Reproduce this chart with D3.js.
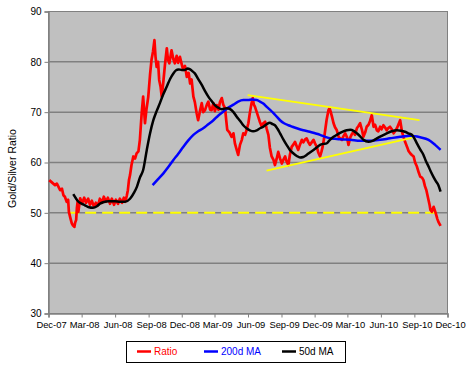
<!DOCTYPE html>
<html>
<head>
<meta charset="utf-8">
<title>Gold/Silver Ratio</title>
<style>
  body { margin: 0; background: #fff; }
  svg text { font-family: "Liberation Sans", Arial, sans-serif; }
</style>
</head>
<body>
<svg id="chart"></svg>
<script src="https://d3js.org/d3.v7.min.js"></script>
<script>
// ---- data ----
var ratioDates = ['2007-12-03','2007-12-11','2007-12-19','2007-12-24','2008-01-02','2008-01-07','2008-01-11','2008-01-15','2008-01-20','2008-01-24',
  '2008-01-26','2008-01-30','2008-02-03','2008-02-06','2008-02-10','2008-02-12','2008-02-15','2008-02-17','2008-02-19','2008-02-21',
  '2008-02-26','2008-03-02','2008-03-08','2008-03-13','2008-03-19','2008-03-24','2008-03-29','2008-04-04','2008-04-09','2008-04-15',
  '2008-04-20','2008-04-26','2008-05-01','2008-05-07','2008-05-12','2008-05-18','2008-05-23','2008-05-29','2008-06-03','2008-06-09',
  '2008-06-14','2008-06-20','2008-06-25','2008-06-29','2008-07-03','2008-07-06','2008-07-09','2008-07-12','2008-07-16','2008-07-21',
  '2008-07-26','2008-07-30','2008-08-04','2008-08-08','2008-08-13','2008-08-17','2008-08-22','2008-08-26','2008-08-31','2008-09-05',
  '2008-09-09','2008-09-13','2008-09-17','2008-09-20','2008-09-23','2008-09-27','2008-09-30','2008-10-04','2008-10-07','2008-10-11',
  '2008-10-16','2008-10-21','2008-10-24','2008-10-28','2008-10-31','2008-11-03','2008-11-08','2008-11-12','2008-11-17','2008-11-21',
  '2008-11-26','2008-12-01','2008-12-05','2008-12-10','2008-12-15','2008-12-20','2008-12-24','2008-12-28','2009-01-02','2009-01-06',
  '2009-01-11','2009-01-15','2009-01-20','2009-01-25','2009-01-29','2009-02-03','2009-02-08','2009-02-12','2009-02-17','2009-02-21',
  '2009-02-26','2009-03-02','2009-03-07','2009-03-12','2009-03-16','2009-03-21','2009-03-25','2009-03-30','2009-04-02','2009-04-05',
  '2009-04-11','2009-04-17','2009-04-22','2009-04-26','2009-05-01','2009-05-05','2009-05-10','2009-05-15','2009-05-19','2009-05-24',
  '2009-05-28','2009-06-02','2009-06-06','2009-06-10','2009-06-14','2009-06-17','2009-06-20','2009-06-25','2009-06-29','2009-07-04',
  '2009-07-09','2009-07-13','2009-07-18','2009-07-22','2009-07-27','2009-07-31','2009-08-05','2009-08-10','2009-08-14','2009-08-19',
  '2009-08-23','2009-08-28','2009-09-02','2009-09-06','2009-09-11','2009-09-15','2009-09-20','2009-09-24','2009-09-29','2009-10-04',
  '2009-10-08','2009-10-13','2009-10-17','2009-10-22','2009-10-27','2009-10-31','2009-11-05','2009-11-09','2009-11-14','2009-11-18',
  '2009-11-23','2009-11-28','2009-12-02','2009-12-07','2009-12-11','2009-12-16','2009-12-20','2009-12-23','2009-12-27','2009-12-30',
  '2010-01-03','2010-01-08','2010-01-11','2010-01-14','2010-01-18','2010-01-22','2010-01-26','2010-01-31','2010-02-05','2010-02-09',
  '2010-02-14','2010-02-18','2010-02-23','2010-02-28','2010-03-04','2010-03-09','2010-03-13','2010-03-18','2010-03-22','2010-03-27',
  '2010-03-31','2010-04-05','2010-04-10','2010-04-14','2010-04-19','2010-04-23','2010-04-28','2010-05-02','2010-05-07','2010-05-12',
  '2010-05-16','2010-05-21','2010-05-25','2010-05-30','2010-06-03','2010-06-08','2010-06-13','2010-06-17','2010-06-22','2010-06-26',
  '2010-07-01','2010-07-06','2010-07-10','2010-07-15','2010-07-19','2010-07-24','2010-07-29','2010-08-02','2010-08-07','2010-08-12',
  '2010-08-16','2010-08-21','2010-08-25','2010-08-30','2010-09-03','2010-09-08','2010-09-13','2010-09-17','2010-09-22','2010-09-26',
  '2010-09-30','2010-10-04','2010-10-07','2010-10-10','2010-10-13','2010-10-15','2010-10-19','2010-10-24','2010-10-28','2010-10-31',
  '2010-11-03','2010-11-06','2010-11-09','2010-11-12'];
var ratioValues = [56.5,56.0,55.5,55.8,54.5,54.8,53.5,53.2,52.2,52.6,
  50.2,49.0,47.9,47.5,47.2,48.0,48.6,51.0,52.2,50.2,
  52.9,51.8,53.0,52.0,52.8,51.6,52.4,51.2,52.0,51.5,
  52.8,52.0,53.2,52.2,53.0,51.8,52.8,51.6,52.6,51.8,
  52.8,52.0,53.0,52.2,53.4,54.5,56.5,57.5,59.5,61.2,
  60.8,61.8,62.2,64.5,69.8,73.1,67.8,70.5,73.0,77.5,
  80.4,82.0,84.3,81.0,79.0,80.0,76.4,75.0,73.1,75.7,
  79.5,82.7,80.5,79.7,81.0,82.3,80.5,79.7,81.2,79.8,
  81.0,79.5,78.4,79.2,77.0,77.8,75.7,76.5,73.1,72.0,
  69.8,68.4,70.2,71.8,70.0,70.4,71.5,72.1,70.5,70.4,
  71.8,70.2,71.4,70.5,72.0,72.8,71.5,70.8,68.5,66.5,
  66.0,65.1,65.8,63.8,62.5,61.5,63.5,64.5,65.8,65.5,
  66.4,67.8,69.8,71.5,72.8,71.5,71.1,70.0,69.1,68.0,
  67.1,67.8,68.1,66.8,65.5,63.0,61.2,60.5,59.5,60.8,
  62.1,60.8,59.8,60.5,61.2,60.2,59.5,61.5,63.1,63.6,
  64.1,63.2,62.5,63.6,64.5,64.0,64.6,64.8,64.0,63.5,
  64.0,64.5,63.8,63.1,62.0,61.2,62.2,63.1,64.8,66.4,
  68.5,70.4,70.8,70.1,69.0,67.8,67.0,66.4,65.1,64.8,
  64.5,65.2,65.8,65.0,63.5,65.0,65.6,66.1,65.5,66.8,
  67.2,67.8,66.5,65.1,66.0,67.1,67.5,68.2,69.4,67.1,
  67.5,66.4,66.2,67.1,66.6,67.4,66.9,66.4,66.9,67.1,
  66.6,65.8,66.2,66.8,67.5,68.4,66.1,65.1,64.0,63.1,
  62.3,61.8,61.5,61.2,60.0,59.2,58.0,57.2,57.0,56.5,
  55.3,54.5,53.5,52.5,51.5,50.6,50.2,51.2,50.3,49.6,
  48.8,48.2,47.8,47.4];

var ma200Dates = ['2008-09-12','2008-09-27','2008-10-11','2008-10-25','2008-11-08','2008-11-22','2008-12-05','2008-12-19','2009-01-02','2009-01-15',
  '2009-01-29','2009-02-12','2009-02-26','2009-03-11','2009-03-25','2009-04-08','2009-04-22','2009-05-05','2009-05-19','2009-06-02',
  '2009-06-11','2009-06-25','2009-07-04','2009-07-13','2009-07-22','2009-07-31','2009-08-10','2009-08-19','2009-08-28','2009-09-08',
  '2009-09-20','2009-10-01','2009-10-13','2009-10-31','2009-11-18','2009-12-02','2009-12-16','2009-12-30','2010-01-12','2010-01-26',
  '2010-02-09','2010-03-09','2010-04-05','2010-05-02','2010-05-30','2010-06-26','2010-07-24','2010-08-21','2010-09-17','2010-10-10',
  '2010-10-28','2010-11-12'];
var ma200Values = [55.5,56.7,57.8,59.1,60.5,61.8,63.1,64.4,65.5,66.2,
  66.8,67.6,68.4,69.3,70.1,70.9,71.5,72.1,72.4,72.4,
  72.5,72.4,72.1,71.7,71.1,70.5,69.8,69.1,68.4,67.8,
  67.4,67.1,66.8,66.4,66.1,65.8,65.5,65.1,64.8,64.7,
  64.6,64.5,64.3,64.3,64.5,64.8,65.1,65.3,65.0,64.5,
  63.5,62.5];

var ma50Dates = ['2008-02-07','2008-02-15','2008-02-20','2008-02-28','2008-03-10','2008-03-21','2008-04-01','2008-04-12','2008-04-20','2008-04-29',
  '2008-05-15','2008-06-01','2008-06-14','2008-06-28','2008-07-12','2008-07-23','2008-07-31','2008-08-08','2008-08-17','2008-08-27',
  '2008-09-05','2008-09-14','2008-09-23','2008-10-02','2008-10-11','2008-10-21','2008-10-30','2008-11-08','2008-11-15','2008-11-22',
  '2008-12-01','2008-12-10','2008-12-17','2008-12-24','2008-12-31','2009-01-06','2009-01-15','2009-01-25','2009-02-03','2009-02-12',
  '2009-02-21','2009-03-02','2009-03-11','2009-03-21','2009-04-04','2009-04-13','2009-04-22','2009-05-01','2009-05-10','2009-05-19',
  '2009-05-28','2009-06-06','2009-06-15','2009-06-25','2009-07-04','2009-07-13','2009-07-22','2009-07-31','2009-08-08','2009-08-14',
  '2009-08-21','2009-08-28','2009-09-06','2009-09-15','2009-09-24','2009-10-04','2009-10-13','2009-10-22','2009-10-31','2009-11-09',
  '2009-11-18','2009-11-28','2009-12-07','2009-12-16','2009-12-25','2010-01-03','2010-01-12','2010-01-22','2010-01-31','2010-02-09',
  '2010-02-18','2010-02-27','2010-03-09','2010-03-18','2010-03-27','2010-04-05','2010-04-14','2010-04-28','2010-05-09','2010-05-21',
  '2010-06-03','2010-06-17','2010-07-01','2010-07-15','2010-07-26','2010-08-06','2010-08-15','2010-08-25','2010-09-01','2010-09-08',
  '2010-09-17','2010-09-26','2010-10-02','2010-10-10','2010-10-16','2010-10-23','2010-10-30','2010-11-06','2010-11-12'];
var ma50Values = [53.7,52.8,52.3,51.9,51.5,51.1,51.0,51.3,51.8,52.1,
  52.3,52.3,52.2,52.2,52.8,54.0,55.2,57.0,58.5,62.5,
  65.8,68.4,70.2,71.8,73.5,75.1,76.6,77.7,78.3,78.5,
  78.4,78.4,78.7,78.5,78.1,77.7,76.6,75.4,74.2,73.1,
  72.2,71.4,70.9,70.6,70.8,70.6,70.0,69.1,68.3,67.4,
  66.8,66.4,66.2,66.4,66.8,67.1,67.6,67.9,67.6,67.4,
  66.7,65.8,64.6,63.5,62.5,61.8,61.3,61.0,61.1,61.5,
  62.0,62.5,63.0,63.5,63.7,63.8,64.5,65.1,65.5,65.9,
  66.2,66.4,66.5,66.3,65.8,65.2,64.5,64.1,64.3,64.8,
  65.3,65.8,66.2,66.4,66.3,66.1,65.8,65.5,64.8,63.8,
  62.6,61.5,60.4,59.2,58.2,57.2,56.3,55.5,54.2];

// hand-drawn trend lines (start/end) and support level
var upperTrend = [['2009-05-31', 73.4], ['2010-09-15', 68.4]];
var lowerTrend = [['2009-07-22', 58.4], ['2010-08-25', 64.9]];
var supportLine = [['2008-01-24', 50], ['2010-11-02', 50]];

var tickDates = ['2007-12-01','2008-03-01','2008-06-01','2008-09-01','2008-12-01','2009-03-01','2009-06-01',
  '2009-09-01','2009-12-01','2010-03-01','2010-06-01','2010-09-01','2010-12-01'];
var tickLabels = ['Dec-07','Mar-08','Jun-08','Sep-08','Dec-08','Mar-09','Jun-09',
  'Sep-09','Dec-09','Mar-10','Jun-10','Sep-10','Dec-10'];
var yTicks = [30, 40, 50, 60, 70, 80, 90];

// ---- drawing ----
var parse = d3.timeParse('%Y-%m-%d');
var W = 470, H = 371;
var plotL = 48.5, plotR = 447.5, plotT = 11.5, plotB = 313.5;

var svg = d3.select('#chart').attr('width', W).attr('height', H);

var x = d3.scaleTime()
  .domain([parse('2007-12-01'), parse('2010-12-01')])
  .range([plotL, plotR]);
var y = d3.scaleLinear().domain([30, 90]).range([plotB, plotT]);

svg.append('rect')
  .attr('x', plotL).attr('y', plotT)
  .attr('width', plotR - plotL).attr('height', plotB - plotT)
  .attr('fill', '#c0c0c0').attr('stroke', '#808080').attr('stroke-width', 1);

// gridlines
svg.append('g').selectAll('line')
  .data(yTicks.slice(1, -1))
  .enter().append('line')
  .attr('x1', plotL).attr('x2', plotR)
  .attr('y1', function(d) { return y(d); })
  .attr('y2', function(d) { return y(d); })
  .attr('stroke', '#808080').attr('stroke-width', 1.5);

var yAxis = d3.axisLeft(y).tickValues(yTicks).tickSize(4).tickPadding(3).tickFormat(d3.format('d'));
var gy = svg.append('g').attr('transform', 'translate(' + plotL + ',0)').call(yAxis);

var xAxis = d3.axisBottom(x)
  .tickValues(tickDates.map(parse))
  .tickSize(4).tickPadding(4)
  .tickFormat(function(d, i) { return tickLabels[i]; });
var gx = svg.append('g').attr('transform', 'translate(0,' + plotB + ')').call(xAxis);

[gx, gy].forEach(function(g) {
  g.select('.domain').attr('stroke', '#808080').attr('stroke-width', 1.5);
  g.selectAll('.tick line').attr('stroke', '#808080');
  g.selectAll('.tick text').attr('fill', '#000').style('font-size', '9.4px')
    .style('font-family', '"Liberation Sans", Arial, sans-serif');
});
gy.selectAll('.tick text').style('font-size', '10px');
gx.selectAll('.tick text').attr('dx', 2.5);

svg.append('text')
  .attr('transform', 'translate(16,' + ((plotT + plotB) / 2 + 6) + ') rotate(-90)')
  .attr('text-anchor', 'middle')
  .style('font-size', '10.5px')
  .text('Gold/Silver Ratio');

function pairs(dates, vals) {
  return dates.map(function(d, i) { return [parse(d), vals[i]]; });
}
function seg(arr) {
  return arr.map(function(p) { return [parse(p[0]), p[1]]; });
}

var line = d3.line()
  .x(function(d) { return x(d[0]); })
  .y(function(d) { return y(d[1]); });
var smooth = d3.line()
  .curve(d3.curveMonotoneX)
  .x(function(d) { return x(d[0]); })
  .y(function(d) { return y(d[1]); });

// support level at 50
svg.append('path')
  .datum(seg(supportLine))
  .attr('d', line)
  .attr('fill', 'none').attr('stroke', '#ffff00').attr('stroke-width', 2)
  .attr('stroke-dasharray', '11,6');

svg.append('path')
  .datum(pairs(ratioDates, ratioValues))
  .attr('d', line)
  .attr('fill', 'none').attr('stroke', '#ff0000').attr('stroke-width', 2.7)
  .attr('stroke-linejoin', 'round');

svg.append('path')
  .datum(pairs(ma200Dates, ma200Values))
  .attr('d', smooth)
  .attr('fill', 'none').attr('stroke', '#0000ff').attr('stroke-width', 2.5);

svg.append('path')
  .datum(pairs(ma50Dates, ma50Values))
  .attr('d', smooth)
  .attr('fill', 'none').attr('stroke', '#000000').attr('stroke-width', 2.5);

[upperTrend, lowerTrend].forEach(function(t) {
  svg.append('path')
    .datum(seg(t))
    .attr('d', line)
    .attr('fill', 'none').attr('stroke', '#ffff00').attr('stroke-width', 1.8);
});

// legend
var legend = svg.append('g');
legend.append('rect')
  .attr('x', 126.5).attr('y', 341.5).attr('width', 219).attr('height', 21)
  .attr('fill', '#fff').attr('stroke', '#000').attr('stroke-width', 1);

var legendItems = [
  { name: 'Ratio', color: '#ff0000', x: 137 },
  { name: '200d MA', color: '#0000ff', x: 204 },
  { name: '50d MA', color: '#000000', x: 282 }
];
legendItems.forEach(function(it) {
  legend.append('line')
    .attr('x1', it.x).attr('x2', it.x + 14)
    .attr('y1', 351.5).attr('y2', 351.5)
    .attr('stroke', it.color).attr('stroke-width', 2.5);
  legend.append('text')
    .attr('x', it.x + 17).attr('y', 355)
    .attr('fill', it.color)
    .style('font-size', '10px')
    .text(it.name);
});
</script>
</body>
</html>
